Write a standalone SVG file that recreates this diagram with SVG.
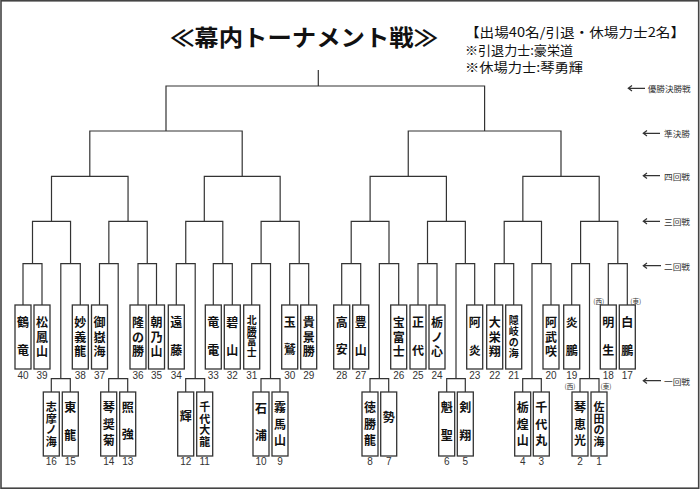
<svg xmlns="http://www.w3.org/2000/svg" width="700" height="489" viewBox="0 0 700 489">
<style>
.ln{fill:none;stroke:#333;stroke-width:1.2}
.bx{fill:#fff;stroke:#333;stroke-width:1.3}
.nm{font-family:"Noto Sans CJK JP","Noto Sans CJK SC",sans-serif;font-weight:bold;font-size:12px;text-anchor:middle;dominant-baseline:central;fill:#111}
.nm4{font-size:10px}
.nm5{font-size:11px}
.no{font-family:"Liberation Sans",Arial,sans-serif;font-size:10px;text-anchor:middle;dominant-baseline:central;fill:#333}
.ew{font-family:"Noto Sans CJK JP",sans-serif;font-size:6.5px;text-anchor:middle;dominant-baseline:central;fill:#333}
.rd{font-family:"Noto Sans CJK JP",sans-serif;font-size:8.5px;dominant-baseline:central;fill:#333}
.ttl{font-family:"Noto Sans CJK JP",sans-serif;font-weight:bold;font-size:23px;dominant-baseline:central;fill:#111}
.sub{font-family:"Noto Sans CJK JP",sans-serif;font-size:13px;dominant-baseline:central;fill:#111}
</style>
<rect x="1" y="0.8" width="697.7" height="487.4" fill="#fff" stroke="#444" stroke-width="1.6"/>
<g id="title">
<text class="ttl" x="170" y="35.5" textLength="268" lengthAdjust="spacingAndGlyphs">≪幕内トーナメント戦≫</text>
</g>
<g id="info">
<text class="sub" x="465" y="31.7" textLength="220" lengthAdjust="spacingAndGlyphs">【出場40名/引退・休場力士2名】</text>
<text class="sub" x="465" y="49.3" textLength="108" lengthAdjust="spacingAndGlyphs">※引退力士:豪栄道</text>
<text class="sub" x="465" y="66.7" textLength="118" lengthAdjust="spacingAndGlyphs">※休場力士:琴勇輝</text>
</g>
<g id="connectors" class="ln">
<path d="M318.3 70V86"/>
<path d="M166 131V86H484.6V131"/>
<path d="M89.8 176.3V131H242.2V176.3M408.25 176.3V131H561V176.3"/>
<path d="M51.5 221.3V176.3H128.05V221.3M204.3 221.3V176.3H280.15V221.3M370.1 221.3V176.3H446.4V221.3M522.85 221.3V176.3H599.2V221.3"/>
<path d="M32.5 263.7V221.3H70.55V263.7M108.85 263.7V221.3H147.25V263.7M185.75 263.7V221.3H222.8V263.7M261.1 263.7V221.3H299.2V263.7M351.2 263.7V221.3H389V263.7M427.5 263.7V221.3H465.35V263.7M504.2 263.7V221.3H541.5V263.7M580.6 263.7V221.3H617.8V263.7"/>
<path d="M23 305V263.7H42V305M60.8 378.7V263.7H80.3V305M99.5 305V263.7H118.2V378.7M138 305V263.7H156.5V305M176.3 305V263.7H195.2V378.7M213.3 305V263.7H232.3V305M251.7 305V263.7H270.5V378.7M289.7 305V263.7H308.7V305"/>
<path d="M341.7 305V263.7H360.7V305M379.35 378.7V263.7H398.7V305M418 305V263.7H437V305M456 378.7V263.7H474.7V305M494.7 305V263.7H513.7V305M532 378.7V263.7H551V305M571.7 305V263.7H589.5V378.7M608.3 305V263.7H627.3V305"/>
<path d="M51.3 392V378.7H70.3V392M108.7 392V378.7H127.7V392M185.7 392V378.7H204.7V392M261 392V378.7H280V392M370 392V378.7H388.7V392M446.7 392V378.7H465.3V392M522.7 392V378.7H541.3V392M580 392V378.7H599V392"/>
</g>
<g id="rounds">
<path class="ln" d="M645 88.3H628.3M632 85.6L628.3 88.3L632 91"/>
<text class="rd" x="647.7" y="88.3" textLength="43" lengthAdjust="spacingAndGlyphs">優勝決勝戦</text>
<path class="ln" d="M660 133.3H643.3M647 130.6L643.3 133.3L647 136"/>
<text class="rd" x="664" y="133.3" textLength="26" lengthAdjust="spacingAndGlyphs">準決勝</text>
<path class="ln" d="M660 175.7H643.3M647 173L643.3 175.7L647 178.4"/>
<text class="rd" x="664" y="175.7" textLength="26" lengthAdjust="spacingAndGlyphs">四回戦</text>
<path class="ln" d="M660 221.3H643.3M647 218.6L643.3 221.3L647 224"/>
<text class="rd" x="664" y="221.3" textLength="26" lengthAdjust="spacingAndGlyphs">三回戦</text>
<path class="ln" d="M661 265.7H643.3M647 263L643.3 265.7L647 268.4"/>
<text class="rd" x="664" y="265.7" textLength="26" lengthAdjust="spacingAndGlyphs">二回戦</text>
<path class="ln" d="M661 380.7H643.3M647 378L643.3 380.7L647 383.4"/>
<text class="rd" x="664" y="380.7" textLength="26" lengthAdjust="spacingAndGlyphs">一回戦</text>
</g>
<g id="r40"><rect class="bx" x="15" y="305" width="16" height="64"/><text class="nm"><tspan x="23" y="321">鶴</tspan><tspan x="23" y="348.7">竜</tspan></text><text class="no" x="23" y="375">40</text></g>
<g id="r39"><rect class="bx" x="34" y="305" width="16" height="64"/><text class="nm"><tspan x="42" y="321">松</tspan><tspan x="42" y="335.8">鳳</tspan><tspan x="42" y="350.3">山</tspan></text><text class="no" x="42" y="375">39</text></g>
<g id="r38"><rect class="bx" x="72.3" y="305" width="16" height="64"/><text class="nm"><tspan x="80.3" y="321">妙</tspan><tspan x="80.3" y="335.8">義</tspan><tspan x="80.3" y="350.3">龍</tspan></text><text class="no" x="80.3" y="375">38</text></g>
<g id="r37"><rect class="bx" x="91.5" y="305" width="16" height="64"/><text class="nm"><tspan x="99.5" y="321">御</tspan><tspan x="99.5" y="335.8">嶽</tspan><tspan x="99.5" y="350.3">海</tspan></text><text class="no" x="99.5" y="375">37</text></g>
<g id="r36"><rect class="bx" x="130" y="305" width="16" height="64"/><text class="nm"><tspan x="138" y="321">隆</tspan><tspan x="138" y="335.8">の</tspan><tspan x="138" y="350.3">勝</tspan></text><text class="no" x="138" y="375">36</text></g>
<g id="r35"><rect class="bx" x="148.5" y="305" width="16" height="64"/><text class="nm"><tspan x="156.5" y="321">朝</tspan><tspan x="156.5" y="335.8">乃</tspan><tspan x="156.5" y="350.3">山</tspan></text><text class="no" x="156.5" y="375">35</text></g>
<g id="r34"><rect class="bx" x="168.3" y="305" width="16" height="64"/><text class="nm"><tspan x="176.3" y="321">遠</tspan><tspan x="176.3" y="348.7">藤</tspan></text><text class="no" x="176.3" y="375">34</text></g>
<g id="r33"><rect class="bx" x="205.3" y="305" width="16" height="64"/><text class="nm"><tspan x="213.3" y="321">竜</tspan><tspan x="213.3" y="348.7">電</tspan></text><text class="no" x="213.3" y="375">33</text></g>
<g id="r32"><rect class="bx" x="224.3" y="305" width="16" height="64"/><text class="nm"><tspan x="232.3" y="321">碧</tspan><tspan x="232.3" y="348.7">山</tspan></text><text class="no" x="232.3" y="375">32</text></g>
<g id="r31"><rect class="bx" x="243.7" y="305" width="16" height="64"/><text class="nm nm4"><tspan x="251.7" y="319">北</tspan><tspan x="251.7" y="329.7">勝</tspan><tspan x="251.7" y="340.4">富</tspan><tspan x="251.7" y="351.1">士</tspan></text><text class="no" x="251.7" y="375">31</text></g>
<g id="r30"><rect class="bx" x="281.7" y="305" width="16" height="64"/><text class="nm"><tspan x="289.7" y="321">玉</tspan><tspan x="289.7" y="348">鷲</tspan></text><text class="no" x="289.7" y="375">30</text></g>
<g id="r29"><rect class="bx" x="300.7" y="305" width="16" height="64"/><text class="nm"><tspan x="308.7" y="321">貴</tspan><tspan x="308.7" y="335.8">景</tspan><tspan x="308.7" y="350.3">勝</tspan></text><text class="no" x="308.7" y="375">29</text></g>
<g id="r28"><rect class="bx" x="333.7" y="305" width="16" height="64"/><text class="nm"><tspan x="341.7" y="321">高</tspan><tspan x="341.7" y="348.3">安</tspan></text><text class="no" x="341.7" y="375">28</text></g>
<g id="r27"><rect class="bx" x="352.7" y="305" width="16" height="64"/><text class="nm"><tspan x="360.7" y="321">豊</tspan><tspan x="360.7" y="348.7">山</tspan></text><text class="no" x="360.7" y="375">27</text></g>
<g id="r26"><rect class="bx" x="390.7" y="305" width="16" height="64"/><text class="nm"><tspan x="398.7" y="321">宝</tspan><tspan x="398.7" y="335.8">富</tspan><tspan x="398.7" y="350.3">士</tspan></text><text class="no" x="398.7" y="375">26</text></g>
<g id="r25"><rect class="bx" x="410" y="305" width="16" height="64"/><text class="nm"><tspan x="418" y="321">正</tspan><tspan x="418" y="348.7">代</tspan></text><text class="no" x="418" y="375">25</text></g>
<g id="r24"><rect class="bx" x="429" y="305" width="16" height="64"/><text class="nm"><tspan x="437" y="321">栃</tspan><tspan x="437" y="335.8">ノ</tspan><tspan x="437" y="350.3">心</tspan></text><text class="no" x="437" y="375">24</text></g>
<g id="r23"><rect class="bx" x="466.7" y="305" width="16" height="64"/><text class="nm"><tspan x="474.7" y="321">阿</tspan><tspan x="474.7" y="348.7">炎</tspan></text><text class="no" x="474.7" y="375">23</text></g>
<g id="r22"><rect class="bx" x="486.7" y="305" width="16" height="64"/><text class="nm"><tspan x="494.7" y="321">大</tspan><tspan x="494.7" y="335.8">栄</tspan><tspan x="494.7" y="350.3">翔</tspan></text><text class="no" x="494.7" y="375">22</text></g>
<g id="r21"><rect class="bx" x="505.7" y="305" width="16" height="64"/><text class="nm nm4"><tspan x="513.7" y="318.5">隠</tspan><tspan x="513.7" y="329.6">岐</tspan><tspan x="513.7" y="340.7">の</tspan><tspan x="513.7" y="351.8">海</tspan></text><text class="no" x="513.7" y="375">21</text></g>
<g id="r20"><rect class="bx" x="543" y="305" width="16" height="64"/><text class="nm"><tspan x="551" y="321">阿</tspan><tspan x="551" y="335.8">武</tspan><tspan x="551" y="350.3">咲</tspan></text><text class="no" x="551" y="375">20</text></g>
<g id="r19"><rect class="bx" x="563.7" y="305" width="16" height="64"/><text class="nm"><tspan x="571.7" y="321">炎</tspan><tspan x="571.7" y="348.7">鵬</tspan></text><text class="no" x="571.7" y="375">19</text></g>
<g id="r18"><rect class="bx" x="600.3" y="305" width="16" height="64"/><text class="nm"><tspan x="608.3" y="321">明</tspan><tspan x="608.3" y="348.7">生</tspan></text><text class="no" x="608.3" y="375">18</text><text class="ew" x="598.7" y="300.7">(西)</text></g>
<g id="r17"><rect class="bx" x="619.3" y="305" width="16" height="64"/><text class="nm"><tspan x="627.3" y="321">白</tspan><tspan x="627.3" y="348.7">鵬</tspan></text><text class="no" x="627.3" y="375">17</text><text class="ew" x="635.8" y="300.7">(東)</text></g>
<g id="r16"><rect class="bx" x="43.3" y="392" width="16" height="64"/><text class="nm nm5"><tspan x="51.3" y="406.3">志</tspan><tspan x="51.3" y="417.7">摩</tspan><tspan x="51.3" y="429">ノ</tspan><tspan x="51.3" y="440.5">海</tspan></text><text class="no" x="51.3" y="461">16</text></g>
<g id="r15"><rect class="bx" x="62.3" y="392" width="16" height="64"/><text class="nm"><tspan x="70.3" y="406.3">東</tspan><tspan x="70.3" y="433.8">龍</tspan></text><text class="no" x="70.3" y="461">15</text></g>
<g id="r14"><rect class="bx" x="100.7" y="392" width="16" height="64"/><text class="nm"><tspan x="108.7" y="406.3">琴</tspan><tspan x="108.7" y="422.8">奨</tspan><tspan x="108.7" y="438.8">菊</tspan></text><text class="no" x="108.7" y="461">14</text></g>
<g id="r13"><rect class="bx" x="119.7" y="392" width="16" height="64"/><text class="nm"><tspan x="127.7" y="406.3">照</tspan><tspan x="127.7" y="433.3">強</tspan></text><text class="no" x="127.7" y="461">13</text></g>
<g id="r12"><rect class="bx" x="177.7" y="392" width="16" height="64"/><text class="nm"><tspan x="185.7" y="415">輝</tspan></text><text class="no" x="185.7" y="461">12</text></g>
<g id="r11"><rect class="bx" x="196.7" y="392" width="16" height="64"/><text class="nm nm5"><tspan x="204.7" y="406.3">千</tspan><tspan x="204.7" y="417.7">代</tspan><tspan x="204.7" y="429">大</tspan><tspan x="204.7" y="440.5">龍</tspan></text><text class="no" x="204.7" y="461">11</text></g>
<g id="r10"><rect class="bx" x="253" y="392" width="16" height="64"/><text class="nm"><tspan x="261" y="406.8">石</tspan><tspan x="261" y="434">浦</tspan></text><text class="no" x="261" y="461">10</text></g>
<g id="r9"><rect class="bx" x="272" y="392" width="16" height="64"/><text class="nm"><tspan x="280" y="406.3">霧</tspan><tspan x="280" y="422.8">馬</tspan><tspan x="280" y="438.8">山</tspan></text><text class="no" x="280" y="461">9</text></g>
<g id="r8"><rect class="bx" x="362" y="392" width="16" height="64"/><text class="nm"><tspan x="370" y="406.3">徳</tspan><tspan x="370" y="422.8">勝</tspan><tspan x="370" y="438.8">龍</tspan></text><text class="no" x="370" y="461">8</text></g>
<g id="r7"><rect class="bx" x="380.7" y="392" width="16" height="64"/><text class="nm"><tspan x="388.7" y="416">勢</tspan></text><text class="no" x="388.7" y="461">7</text></g>
<g id="r6"><rect class="bx" x="438.7" y="392" width="16" height="64"/><text class="nm"><tspan x="446.7" y="406.3">魁</tspan><tspan x="446.7" y="434">聖</tspan></text><text class="no" x="446.7" y="461">6</text></g>
<g id="r5"><rect class="bx" x="457.3" y="392" width="16" height="64"/><text class="nm"><tspan x="465.3" y="406.3">剣</tspan><tspan x="465.3" y="434">翔</tspan></text><text class="no" x="465.3" y="461">5</text></g>
<g id="r4"><rect class="bx" x="514.7" y="392" width="16" height="64"/><text class="nm"><tspan x="522.7" y="406.3">栃</tspan><tspan x="522.7" y="422.8">煌</tspan><tspan x="522.7" y="438.8">山</tspan></text><text class="no" x="522.7" y="461">4</text></g>
<g id="r3"><rect class="bx" x="533.3" y="392" width="16" height="64"/><text class="nm"><tspan x="541.3" y="406.3">千</tspan><tspan x="541.3" y="422.8">代</tspan><tspan x="541.3" y="438.8">丸</tspan></text><text class="no" x="541.3" y="461">3</text></g>
<g id="r2"><rect class="bx" x="572" y="392" width="16" height="64"/><text class="nm"><tspan x="580" y="406.3">琴</tspan><tspan x="580" y="422.8">恵</tspan><tspan x="580" y="438.8">光</tspan></text><text class="no" x="580" y="461">2</text><text class="ew" x="570" y="386">(西)</text></g>
<g id="r1"><rect class="bx" x="591" y="392" width="16" height="64"/><text class="nm nm5"><tspan x="599" y="406.3">佐</tspan><tspan x="599" y="417.7">田</tspan><tspan x="599" y="429">の</tspan><tspan x="599" y="440.5">海</tspan></text><text class="no" x="599" y="461">1</text><text class="ew" x="606" y="386">(東)</text></g>
</svg>
